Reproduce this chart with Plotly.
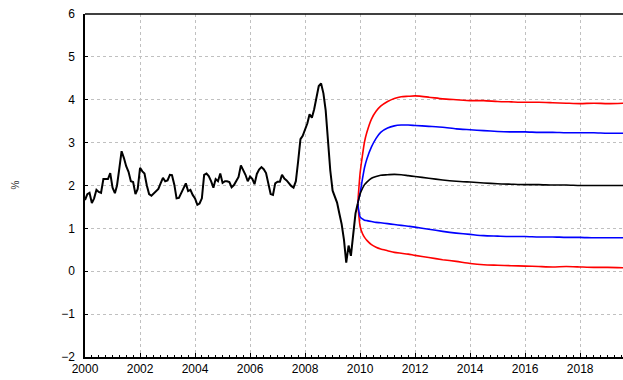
import pandas as pd
import plotly.graph_objects as go

# Monthly history, Jan 2000 - Dec 2009 (%)
hist_start = "2000-01-01"
hist_values = [
    1.66, 1.80, 1.83, 1.59, 1.70, 1.90, 1.85, 1.83, 2.15, 2.15, 2.15, 2.29,
    1.95, 1.82, 2.00, 2.40, 2.80, 2.64, 2.45, 2.32, 2.10, 2.08, 1.80, 1.92,
    2.41, 2.33, 2.28, 2.00, 1.80, 1.76, 1.82, 1.87, 1.92, 2.05, 2.18, 2.10,
    2.12, 2.25, 2.24, 2.02, 1.70, 1.71, 1.82, 1.95, 2.05, 1.87, 1.90, 1.78,
    1.70, 1.55, 1.58, 1.70, 2.25, 2.28, 2.22, 2.10, 1.95, 2.15, 2.10, 2.28,
    2.06, 2.10, 2.10, 2.08, 1.96, 2.01, 2.10, 2.20, 2.47, 2.37, 2.25, 2.10,
    2.21, 2.15, 2.03, 2.27, 2.37, 2.43, 2.38, 2.29, 2.00, 1.80, 1.78, 2.05,
    2.09, 2.09, 2.25, 2.16, 2.12, 2.04, 1.99, 1.95, 2.10, 2.56, 3.08, 3.16,
    3.30, 3.45, 3.66, 3.58, 3.78, 4.03, 4.32, 4.38, 4.15, 3.75, 3.05, 2.35,
    1.88, 1.75, 1.60, 1.34, 1.10, 0.73, 0.20, 0.60, 0.36, 0.85, 1.35, 1.58,
]

# Projection dates and bands
fc_dates = [
    "2009-12-01", "2010-01-01", "2010-02-01", "2010-03-01", "2010-04-01",
    "2010-06-01", "2010-08-01", "2010-10-01", "2011-01-01", "2011-04-01",
    "2011-07-01", "2011-10-01", "2012-01-01", "2012-07-01", "2013-01-01",
    "2013-07-01", "2014-01-01", "2014-07-01", "2015-01-01", "2015-07-01",
    "2016-01-01", "2016-07-01", "2017-01-01", "2017-07-01", "2018-01-01",
    "2018-07-01", "2019-01-01", "2019-08-01",
]
outer_upper = [
    1.58, 2.29, 2.70, 3.02, 3.24, 3.55, 3.73, 3.85, 3.96, 4.03,
    4.07, 4.08, 4.09, 4.06, 4.02, 4.00, 3.98, 3.98, 3.96, 3.95,
    3.94, 3.94, 3.93, 3.92, 3.91, 3.92, 3.91, 3.92,
]
inner_upper = [
    1.58, 1.82, 2.15, 2.42, 2.62, 2.90, 3.10, 3.24, 3.34, 3.39,
    3.41, 3.41, 3.40, 3.38, 3.36, 3.32, 3.30, 3.28, 3.26, 3.25,
    3.25, 3.24, 3.24, 3.23, 3.23, 3.23, 3.22, 3.22,
]
central = [
    1.58, 1.80, 1.93, 2.02, 2.08, 2.17, 2.21, 2.24, 2.25, 2.26,
    2.25, 2.23, 2.21, 2.17, 2.13, 2.10, 2.08, 2.06, 2.04, 2.03,
    2.02, 2.02, 2.01, 2.01, 2.00, 2.00, 2.00, 2.00,
]
inner_lower = [
    1.58, 1.27, 1.22, 1.19, 1.18, 1.16, 1.14, 1.13, 1.11, 1.09,
    1.07, 1.05, 1.03, 0.98, 0.93, 0.89, 0.86, 0.83, 0.82, 0.81,
    0.81, 0.80, 0.80, 0.79, 0.79, 0.78, 0.78, 0.78,
]
outer_lower = [
    1.58, 1.05, 0.88, 0.79, 0.72, 0.62, 0.56, 0.52, 0.48, 0.44,
    0.42, 0.40, 0.37, 0.32, 0.27, 0.23, 0.18, 0.15, 0.14, 0.13,
    0.12, 0.11, 0.10, 0.11, 0.10, 0.09, 0.09, 0.08,
]

y_ticks = [-2, -1, 0, 1, 2, 3, 4, 5, 6]
x_tick_years = list(range(2000, 2020, 2))

hist_dates = pd.date_range(hist_start, periods=len(hist_values), freq="MS")
fc_x = pd.to_datetime(fc_dates)

FONT = "Liberation Sans, Arial, sans-serif"

fig = go.Figure()

band_style = [
    (outer_upper, "#ff0000"),
    (outer_lower, "#ff0000"),
    (inner_upper, "#0000ff"),
    (inner_lower, "#0000ff"),
    (central, "#000000"),
]
for vals, col in band_style:
    fig.add_trace(go.Scatter(
        x=fc_x, y=vals, mode="lines",
        line=dict(color=col, width=1.6, shape="spline", smoothing=0.6),
        showlegend=False, hoverinfo="skip",
    ))

fig.add_trace(go.Scatter(
    x=hist_dates, y=hist_values, mode="lines",
    line=dict(color="#000000", width=2),
    showlegend=False, hoverinfo="skip",
))

fig.update_layout(
    width=623, height=380,
    margin=dict(l=85, r=0, t=14, b=23),
    paper_bgcolor="white", plot_bgcolor="white",
    font=dict(family=FONT, size=12, color="black"),
    xaxis=dict(
        type="date",
        range=["2000-01-01", "2019-07-24"],
        tickvals=[f"{y}-01-01" for y in x_tick_years],
        ticktext=[str(y) for y in x_tick_years],
        showgrid=True, gridcolor="#c0c0c0", griddash="dot", gridwidth=1,
        showline=True, linecolor="black", linewidth=1.5,
        ticks="inside", ticklen=4, tickcolor="black",
        minor=dict(dtick="M3", ticks="inside", ticklen=2, tickcolor="black",
                   showgrid=False),
        zeroline=False,
        tickfont=dict(size=12),
    ),
    yaxis=dict(
        range=[-2, 6],
        tickvals=y_ticks,
        showgrid=True, gridcolor="#c0c0c0", griddash="dot", gridwidth=1,
        showline=True, linecolor="black", linewidth=1.5,
        ticks="inside", ticklen=3, tickcolor="black",
        zeroline=False,
        ticklabelstandoff=6,
        tickfont=dict(size=12),
    ),
    shapes=[dict(type="line", xref="paper", yref="paper", x0=0, x1=1, y0=1, y1=1,
                 line=dict(color="black", width=1.5))],
    annotations=[dict(text="%", xref="paper", yref="paper", x=-0.13, y=0.5,
                      xanchor="center", yanchor="middle", showarrow=False,
                      textangle=-90, font=dict(size=10, color="#333333"))],
)

fig.write_html("out.html")
